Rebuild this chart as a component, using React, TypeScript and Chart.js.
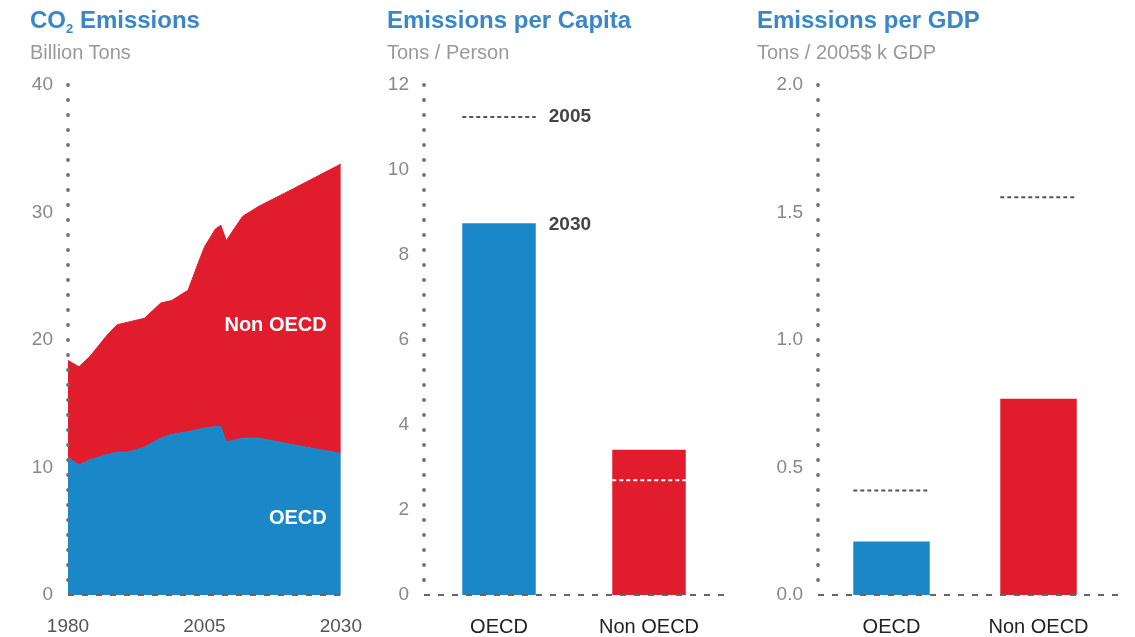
import React, { useEffect, useRef } from "react";
import { Chart, registerables } from "chart.js";

Chart.register(...registerables);

const FONT = '"Liberation Sans", Arial, Helvetica, sans-serif';
const BLUE = "#1a87c8";
const RED = "#e11c2c";
const TITLE_BLUE = "#3a87c7";

// ---- CO2 Emissions (Billion Tons) ----
const years = [1980, 1982, 1984, 1987, 1989, 1991, 1994, 1997, 1999, 2002, 2004, 2005, 2007, 2008, 2009, 2012, 2015, 2021, 2030];
const oecdEmissions = [10.8, 10.2, 10.6, 11.0, 11.2, 11.2, 11.6, 12.3, 12.6, 12.8, 13.0, 13.1, 13.2, 13.2, 12.0, 12.3, 12.3, 11.8, 11.1];
const nonOecdEmissions = [7.6, 7.7, 8.1, 9.3, 10.0, 10.2, 10.1, 10.6, 10.5, 11.1, 13.2, 14.2, 15.5, 15.8, 15.8, 17.4, 18.2, 20.0, 22.7];
const yearTicks = [1980, 2005, 2030];

// ---- Per capita & per GDP ----
const categories = ["OECD", "Non OECD"];
const perCapita2030 = [8.75, 3.42];
const perCapita2005 = [11.25, 2.7];
const perGdp2030 = [0.21, 0.77];
const perGdp2005 = [0.41, 1.56];

// annotation anchors (data coordinates)
const areaLabelYear = 2027.4;
const nonOecdLabelValue = 21.1;
const oecdLabelValue = 6.0;

const tickFont = { family: FONT, size: 19 };
const catFont = { family: FONT, size: 20 };

// dotted vertical axis + dashed baseline, drawn over the data
const axisPlugin = {
  id: "dottedAxes",
  afterDatasetsDraw(chart: any) {
    const { ctx, chartArea } = chart;
    const { left, right, top, bottom } = chartArea;
    ctx.save();
    ctx.fillStyle = "#6f6f6f";
    for (let y = top; y <= bottom - 6; y += 15) {
      ctx.beginPath();
      ctx.arc(left, y, 1.9, 0, Math.PI * 2);
      ctx.fill();
    }
    ctx.strokeStyle = "#666";
    ctx.lineWidth = 2;
    ctx.setLineDash([6, 8]);
    ctx.beginPath();
    ctx.moveTo(left, bottom);
    ctx.lineTo(right + 6, bottom);
    ctx.stroke();
    ctx.restore();
  },
};

const areaLabelPlugin = {
  id: "areaLabels",
  afterDatasetsDraw(chart: any) {
    const { ctx, scales } = chart;
    const x = scales.x.getPixelForValue(areaLabelYear);
    ctx.save();
    ctx.fillStyle = "#ffffff";
    ctx.font = `bold 20px ${FONT}`;
    ctx.textAlign = "right";
    ctx.textBaseline = "middle";
    ctx.fillText("Non OECD", x, scales.y.getPixelForValue(nonOecdLabelValue));
    ctx.fillText("OECD", x, scales.y.getPixelForValue(oecdLabelValue));
    ctx.restore();
  },
};

function makeMarkerPlugin(values2005: number[], withLabels: boolean) {
  return {
    id: "markers2005",
    afterDatasetsDraw(chart: any) {
      const { ctx } = chart;
      const yScale = chart.scales.y;
      const meta = chart.getDatasetMeta(0);
      const vals2030 = chart.data.datasets[0].data as number[];
      meta.data.forEach((bar: any, i: number) => {
        const { x, y, width } = bar.getProps(["x", "y", "width"], true);
        const py = yScale.getPixelForValue(values2005[i]);
        ctx.save();
        ctx.setLineDash([4, 3]);
        ctx.lineWidth = 2;
        ctx.strokeStyle = values2005[i] < vals2030[i] ? "#ffffff" : "#555555";
        ctx.beginPath();
        ctx.moveTo(x - width / 2, py);
        ctx.lineTo(x + width / 2, py);
        ctx.stroke();
        ctx.restore();
        if (withLabels && i === 0) {
          ctx.save();
          ctx.fillStyle = "#444";
          ctx.font = `bold 19px ${FONT}`;
          ctx.textAlign = "left";
          ctx.textBaseline = "middle";
          ctx.fillText("2005", x + width / 2 + 13, py);
          ctx.fillText("2030", x + width / 2 + 13, y + 2);
          ctx.restore();
        }
      });
    },
  };
}

function ChartCanvas({ config, left, width }: { config: any; left: number; width: number }) {
  const ref = useRef<HTMLCanvasElement>(null);
  useEffect(() => {
    if (!ref.current) return;
    const chart = new Chart(ref.current, config);
    return () => chart.destroy();
  }, []);
  return (
    <canvas
      ref={ref}
      width={width}
      height={637}
      style={{ position: "absolute", left, top: 0, width, height: 637 }}
    />
  );
}

const baseOptions = (padRight: number) => ({
  responsive: false,
  animation: false,
  events: [],
  layout: { padding: { top: 85, right: padRight, left: 0, bottom: 0 } },
  plugins: { legend: { display: false }, tooltip: { enabled: false } },
});

const areaConfig = {
  type: "line",
  data: {
    datasets: [
      {
        label: "OECD",
        data: years.map((yr, i) => ({ x: yr, y: oecdEmissions[i] })),
        fill: "origin",
        backgroundColor: BLUE,
        borderColor: BLUE,
        borderWidth: 1,
        pointRadius: 0,
        tension: 0,
      },
      {
        label: "Non OECD",
        data: years.map((yr, i) => ({ x: yr, y: oecdEmissions[i] + nonOecdEmissions[i] })),
        fill: "-1",
        backgroundColor: RED,
        borderColor: RED,
        borderWidth: 1,
        pointRadius: 0,
        tension: 0,
      },
    ],
  },
  options: {
    ...baseOptions(20),
    scales: {
      x: {
        type: "linear",
        min: 1980,
        max: 2030,
        grid: { display: false, drawTicks: false },
        border: { display: false },
        afterBuildTicks: (s: any) => {
          s.ticks = yearTicks.map((v) => ({ value: v }));
        },
        ticks: { padding: 20, color: "#555", font: tickFont, maxRotation: 0, autoSkip: false, callback: (v: any) => String(v) },
        afterFit: (s: any) => {
          s.height = 42;
        },
      },
      y: {
        min: 0,
        max: 40,
        ticks: { stepSize: 10, padding: 15, color: "#888", font: tickFont },
        grid: { display: false, drawTicks: false },
        border: { display: false },
        afterFit: (s: any) => {
          s.width = 68;
        },
      },
    },
  },
  plugins: [areaLabelPlugin, axisPlugin],
};

function barConfig(values: number[], values2005: number[], max: number, step: number, padRight: number, yWidth: number, barPct: number, labels: boolean, decimals: boolean) {
  return {
    type: "bar",
    data: {
      labels: categories,
      datasets: [
        {
          data: values,
          backgroundColor: [BLUE, RED],
          barPercentage: barPct,
          categoryPercentage: 1,
        },
      ],
    },
    options: {
      ...baseOptions(padRight),
      scales: {
        x: {
          grid: { display: false, drawTicks: false },
          border: { display: false },
          ticks: { padding: 20, color: "#222", font: catFont, maxRotation: 0 },
          afterFit: (s: any) => {
            s.height = 42;
          },
        },
        y: {
          min: 0,
          max,
          ticks: {
            stepSize: step,
            padding: 15,
            color: "#888",
            font: tickFont,
            callback: (v: any) => (decimals ? Number(v).toFixed(1) : String(v)),
          },
          grid: { display: false, drawTicks: false },
          border: { display: false },
          afterFit: (s: any) => {
            s.width = yWidth;
          },
        },
      },
    },
    plugins: [makeMarkerPlugin(values2005, labels), axisPlugin],
  };
}

const capitaConfig = barConfig(perCapita2030, perCapita2005, 12, 2, 26, 54, 0.49, true, false);
const gdpConfig = barConfig(perGdp2030, perGdp2005, 2, 0.5, 23, 68, 0.52, false, true);

function Titles({ left, title, subtitle }: { left: number; title: React.ReactNode; subtitle: string }) {
  return (
    <>
      <div
        style={{
          position: "absolute",
          left,
          top: 8,
          fontSize: 24,
          lineHeight: "24px",
          fontWeight: "bold",
          color: TITLE_BLUE,
          whiteSpace: "nowrap",
        }}
      >
        {title}
      </div>
      <div
        style={{
          position: "absolute",
          left,
          top: 41,
          fontSize: 20,
          lineHeight: "22px",
          color: "#999",
          whiteSpace: "nowrap",
        }}
      >
        {subtitle}
      </div>
    </>
  );
}

export default function App() {
  return (
    <div
      style={{
        position: "fixed",
        left: 0,
        top: 0,
        width: 1135,
        height: 637,
        background: "#fff",
        fontFamily: FONT,
        overflow: "hidden",
      }}
    >
      <ChartCanvas config={areaConfig} left={0} width={382} />
      <ChartCanvas config={capitaConfig} left={370} width={380} />
      <ChartCanvas config={gdpConfig} left={750} width={385} />
      <Titles
        left={30}
        title={
          <span>
            CO<sub style={{ fontSize: 13, lineHeight: 0, verticalAlign: "-5px" }}>2</sub> Emissions
          </span>
        }
        subtitle="Billion Tons"
      />
      <Titles left={387} title="Emissions per Capita" subtitle="Tons / Person" />
      <Titles left={757} title="Emissions per GDP" subtitle="Tons / 2005$ k GDP" />
    </div>
  );
}
